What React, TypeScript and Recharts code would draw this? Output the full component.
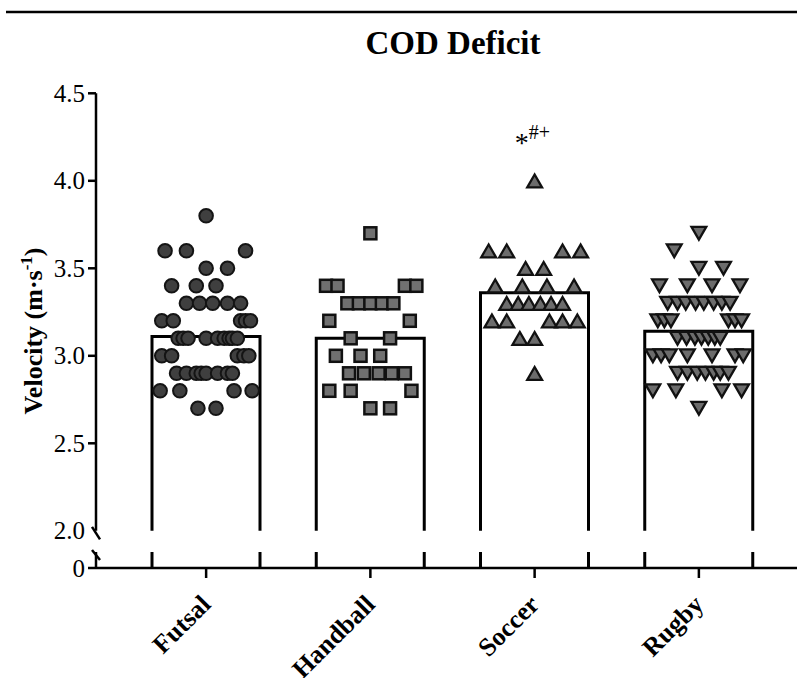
import React from 'react';
import { ComposedChart, Bar, Scatter, XAxis, YAxis } from 'recharts';

// ---------- data ----------
const categories = ['Futsal', 'Handball', 'Soccer', 'Rugby'];
const means = [3.11, 3.1, 3.36, 3.14];
const yTicks = [2, 2.5, 3, 3.5, 4, 4.5];
const lowerTicks = [0];

// [velocity, horizontal jitter in category widths]
type Pt = [number, number];
const futsal: Pt[] = [
  [3.8, 0],
  [3.6, -0.25], [3.6, -0.12], [3.6, 0.24],
  [3.5, 0], [3.5, 0.13],
  [3.4, -0.21], [3.4, -0.06], [3.4, 0.06],
  [3.3, -0.12], [3.3, -0.04], [3.3, 0.04], [3.3, 0.13], [3.3, 0.21],
  [3.2, -0.27], [3.2, -0.2], [3.2, 0.21], [3.2, 0.24], [3.2, 0.27],
  [3.1, -0.17], [3.1, -0.14], [3.1, -0.11], [3.1, 0], [3.1, 0.07], [3.1, 0.11], [3.1, 0.14], [3.1, 0.16], [3.1, 0.19],
  [3.0, -0.27], [3.0, -0.21], [3.0, 0.19], [3.0, 0.23], [3.0, 0.26],
  [2.9, -0.18], [2.9, -0.12], [2.9, -0.06], [2.9, -0.03], [2.9, 0], [2.9, 0.07], [2.9, 0.13], [2.9, 0.16],
  [2.8, -0.28], [2.8, -0.16], [2.8, 0.17], [2.8, 0.28],
  [2.7, -0.05], [2.7, 0.06],
];
const handball: Pt[] = [
  [3.7, 0],
  [3.4, -0.27], [3.4, -0.2], [3.4, 0.21], [3.4, 0.28],
  [3.3, -0.14], [3.3, -0.07], [3.3, 0], [3.3, 0.07], [3.3, 0.14],
  [3.2, -0.25], [3.2, 0.24],
  [3.1, -0.12], [3.1, 0.12],
  [3.0, -0.21], [3.0, -0.06], [3.0, 0.06],
  [2.9, -0.13], [2.9, -0.04], [2.9, 0.05], [2.9, 0.13], [2.9, 0.21],
  [2.8, -0.25], [2.8, -0.12], [2.8, 0.25],
  [2.7, 0], [2.7, 0.12],
];
const soccer: Pt[] = [
  [4.0, 0],
  [3.6, -0.28], [3.6, -0.17], [3.6, 0.17], [3.6, 0.28],
  [3.5, -0.055], [3.5, 0.055],
  [3.4, -0.24], [3.4, -0.075], [3.4, 0.075], [3.4, 0.24],
  [3.3, -0.17], [3.3, -0.1], [3.3, -0.035], [3.3, 0.035], [3.3, 0.1], [3.3, 0.17],
  [3.2, -0.26], [3.2, -0.17], [3.2, 0.09], [3.2, 0.17], [3.2, 0.26],
  [3.1, -0.09], [3.1, 0],
  [2.9, 0],
];
const rugby: Pt[] = [
  [3.7, 0],
  [3.6, -0.15],
  [3.5, 0], [3.5, 0.15],
  [3.4, -0.24], [3.4, -0.07], [3.4, 0.08], [3.4, 0.25],
  [3.3, -0.19], [3.3, -0.13], [3.3, -0.08], [3.3, -0.02], [3.3, 0.03], [3.3, 0.09], [3.3, 0.14], [3.3, 0.19],
  [3.2, -0.25], [3.2, -0.21], [3.2, -0.17], [3.2, 0.18], [3.2, 0.22], [3.2, 0.26],
  [3.1, -0.13], [3.1, -0.075], [3.1, -0.024], [3.1, 0.016], [3.1, 0.057], [3.1, 0.097], [3.1, 0.13],
  [3.0, -0.28], [3.0, -0.23], [3.0, -0.18], [3.0, -0.07], [3.0, 0.08], [3.0, 0.22], [3.0, 0.27],
  [2.9, -0.13], [2.9, -0.07], [2.9, -0.01], [2.9, 0.04], [2.9, 0.09], [2.9, 0.13], [2.9, 0.18],
  [2.8, -0.28], [2.8, -0.14], [2.8, 0.14], [2.8, 0.26],
  [2.7, 0],
];
const annotations = [{ x: 2, y: 4.165, main: '*', sup: '#+' }];

// ---------- derived ----------
const barData = categories.map((name, i) => ({ name, mean: means[i] }));
const toPts = (pts: Pt[], i: number) => pts.map(([v, j]) => ({ x: i + j, y: v }));

const FONT = '"Liberation Serif", "Times New Roman", serif';
const W = 797;
const PAD = { left: 28, right: 16 };
const AXIS = { stroke: '#000', strokeWidth: 2.5 };

// ---------- shapes ----------
const makeBar = (filled: boolean) => (p: any) => {
  const { x, y, width, height } = p;
  if (x == null || width == null) return null;
  return (
    <g>
      {filled && <rect x={x} y={y} width={width} height={height} fill="#fff" />}
      <path
        d={`M${x},${y + height} L${x},${y} L${x + width},${y} L${x + width},${y + height}`}
        fill="none"
        stroke="#000"
        strokeWidth={3}
      />
    </g>
  );
};
const UpperBar = makeBar(true);
const LowerBar = makeBar(false);

const CircleMark = ({ cx, cy }: any) => (
  <circle cx={cx} cy={cy} r={6.8} fill="#3f3f3f" stroke="#141414" strokeWidth={2} />
);
const SquareMark = ({ cx, cy }: any) => (
  <rect x={cx - 6} y={cy - 6} width={12} height={12} fill="#707070" stroke="#111" strokeWidth={2.5} />
);
const TriUpMark = ({ cx, cy }: any) => (
  <path
    d={`M${cx},${cy - 6.3} L${cx - 7.4},${cy + 6.5} L${cx + 7.4},${cy + 6.5} Z`}
    fill="#6c6c6c"
    stroke="#111"
    strokeWidth={2.3}
  />
);
const TriDownMark = ({ cx, cy }: any) => (
  <path
    d={`M${cx},${cy + 6.3} L${cx - 7.4},${cy - 6.5} L${cx + 7.4},${cy - 6.5} Z`}
    fill="#6c6c6c"
    stroke="#111"
    strokeWidth={2.3}
  />
);
const AnnotationMark = ({ cx, cy, payload }: any) => (
  <text x={cx - 20} y={cy} fontFamily={FONT} fill="#000">
    <tspan fontSize={28}>{payload.main}</tspan>
    <tspan fontSize={20} dy={-12.7}>{payload.sup}</tspan>
  </text>
);

// ---------- ticks ----------
const UpperYTick = ({ x, y, payload }: any) => {
  const ax = x + 11;
  const v = payload.value;
  return (
    <g>
      {v === 2 ? (
        <line x1={ax - 4} y1={y - 4} x2={ax + 4} y2={y + 8.5} stroke="#000" strokeWidth={2.5} />
      ) : (
        <line x1={ax - 8} y1={y} x2={ax} y2={y} stroke="#000" strokeWidth={2.5} />
      )}
      <text x={x} y={y} dy="0.34em" textAnchor="end" fontFamily={FONT} fontSize={25} fill="#000">
        {v.toFixed(1)}
      </text>
    </g>
  );
};
const LowerYTick = ({ x, y, payload }: any) => {
  const ax = x + 11;
  return (
    <g>
      <line x1={ax - 8} y1={y} x2={ax} y2={y} stroke="#000" strokeWidth={2.5} />
      <line x1={ax - 4} y1={y - 18} x2={ax + 4} y2={y - 8} stroke="#000" strokeWidth={2.5} />
      <text x={x} y={y} dy="0.34em" textAnchor="end" fontFamily={FONT} fontSize={25} fill="#000">
        {String(payload.value)}
      </text>
    </g>
  );
};
const XTick = ({ x, y, payload }: any) => (
  <g transform={`translate(${x + 6},${y + 26})`}>
    <text textAnchor="end" transform="rotate(-45)" fontFamily={FONT} fontWeight="bold" fontSize={26} fill="#000">
      {payload.value}
    </text>
  </g>
);

export default function App() {
  return (
    <div style={{ position: 'absolute', left: 0, top: 0, width: W, height: 678, background: '#fff' }}>
      <svg width={W} height={678} style={{ position: 'absolute', left: 0, top: 0 }}>
        <line x1={6} y1={12} x2={W} y2={12} stroke="#000" strokeWidth={2.5} />
        <text x={453} y={54} textAnchor="middle" fontFamily={FONT} fontWeight="bold" fontSize={33} fill="#000">
          COD Deficit
        </text>
        <text
          transform="translate(42,331) rotate(-90)"
          textAnchor="middle"
          fontFamily={FONT}
          fontWeight="bold"
          fontSize={26}
          fill="#000"
        >
          Velocity (m·s<tspan fontSize={17} dy={-10}>-1</tspan>
          <tspan dy={10}>)</tspan>
        </text>
      </svg>

      <div style={{ position: 'absolute', left: 0, top: 0 }}>
        <ComposedChart width={W} height={545} data={barData} margin={{ top: 93.3, right: 0, bottom: 14.2, left: 0 }}>
          <XAxis xAxisId="cat" dataKey="name" type="category" hide padding={PAD} />
          <XAxis xAxisId="num" type="number" dataKey="x" domain={[-0.5, 3.5]} hide padding={PAD} />
          <YAxis
            type="number"
            domain={[2, 4.5]}
            ticks={yTicks}
            interval={0}
            width={96}
            tick={(p: any) => <UpperYTick {...p} />}
            tickLine={false}
            tickSize={8}
            tickMargin={3}
            axisLine={AXIS}
          />
          <Bar xAxisId="cat" dataKey="mean" barSize={108} shape={(p: any) => <UpperBar {...p} />} isAnimationActive={false} />
          <Scatter xAxisId="num" data={toPts(futsal, 0)} dataKey="y" shape={(p: any) => <CircleMark {...p} />} isAnimationActive={false} />
          <Scatter xAxisId="num" data={toPts(handball, 1)} dataKey="y" shape={(p: any) => <SquareMark {...p} />} isAnimationActive={false} />
          <Scatter xAxisId="num" data={toPts(soccer, 2)} dataKey="y" shape={(p: any) => <TriUpMark {...p} />} isAnimationActive={false} />
          <Scatter xAxisId="num" data={toPts(rugby, 3)} dataKey="y" shape={(p: any) => <TriDownMark {...p} />} isAnimationActive={false} />
          <Scatter xAxisId="num" data={annotations} dataKey="y" shape={(p: any) => <AnnotationMark {...p} />} isAnimationActive={false} />
        </ComposedChart>
      </div>

      <div style={{ position: 'absolute', left: 0, top: 0 }}>
        <ComposedChart width={W} height={678} data={barData} margin={{ top: 552, right: 0, bottom: 0, left: 0 }}>
          <XAxis
            xAxisId="cat"
            dataKey="name"
            type="category"
            padding={PAD}
            height={110}
            interval={0}
            tickSize={10}
            tickMargin={2}
            tick={(p: any) => <XTick {...p} />}
            tickLine={AXIS}
            axisLine={AXIS}
          />
          <YAxis
            type="number"
            domain={[0, 0.1]}
            ticks={lowerTicks}
            interval={0}
            allowDataOverflow
            width={96}
            tick={(p: any) => <LowerYTick {...p} />}
            tickLine={false}
            tickSize={8}
            tickMargin={3}
            axisLine={AXIS}
          />
          <Bar xAxisId="cat" dataKey="mean" barSize={108} shape={(p: any) => <LowerBar {...p} />} isAnimationActive={false} />
        </ComposedChart>
      </div>
    </div>
  );
}
